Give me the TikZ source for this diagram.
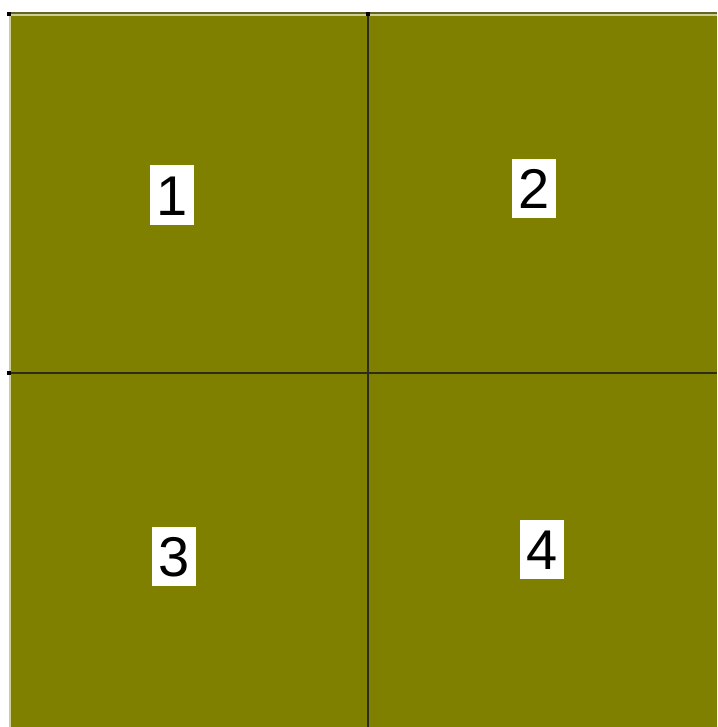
\documentclass[tikz,border=0pt]{standalone}
\usepackage{fontspec}
\setmainfont{Liberation Sans}
\definecolor{olive}{RGB}{128,128,0}
\definecolor{edgelight}{RGB}{205,205,150}
\definecolor{edgedark}{RGB}{100,100,40}
\definecolor{divider}{RGB}{45,45,30}

\begin{document}
\begin{tikzpicture}[x=1pt,y=-1pt,
    numbox/.style={fill=white,text=black,inner xsep=6.5pt,inner ysep=9.5pt,
        text height=40pt,text depth=0pt,font=\fontsize{56}{56}\selectfont}]
    \useasboundingbox (0,0) rectangle (717,727);
    \fill[white] (0,0) rectangle (717,727);

    \coordinate (tl) at (9,14);
    \coordinate (br) at (717,727);
    \coordinate (mtop) at (368,14);
    \coordinate (mbot) at (368,727);
    \coordinate (mleft) at (9,373);
    \coordinate (mright) at (717,373);

    \fill[olive] (tl) rectangle (br);
    \draw[edgedark,line width=1.5pt] (8,13) -- (717,13);
    \draw[edgelight,line width=2pt] (9,15.5) -- (717,15.5);
    \draw[edgelight,line width=2pt] (9.5,14) -- (9.5,727);

    \draw[divider,line width=2pt] (mtop) -- (mbot);
    \draw[divider,line width=2pt] (mleft) -- (mright);

    \foreach \p in {(9,14),(368,14),(9,373)} {
        \fill[black] \p ++(-2,-2) rectangle ++(4,4);
    }

    \node[numbox] (q1) at (172,195) {1};
    \node[numbox] (q2) at (534,189) {2};
    \node[numbox] (q3) at (174,556) {3};
    \node[numbox] (q4) at (542,549) {4};
\end{tikzpicture}
\end{document}
